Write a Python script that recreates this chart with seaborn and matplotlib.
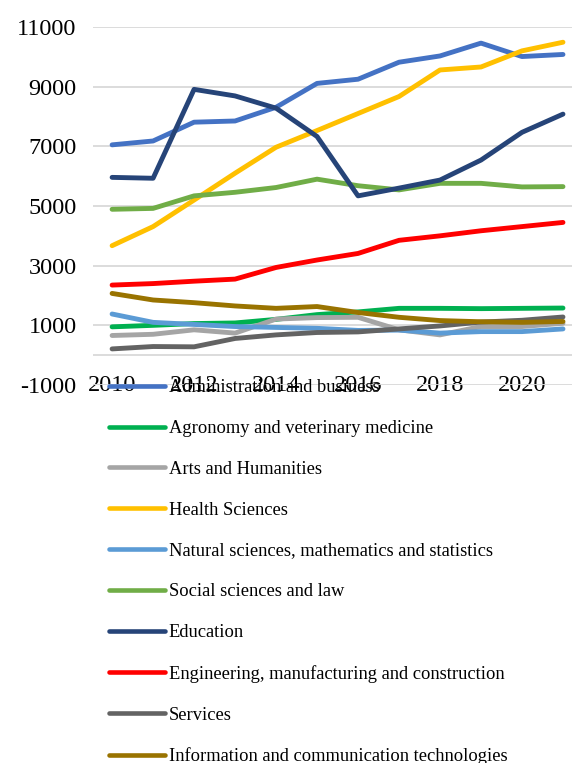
import pandas as pd
import matplotlib.pyplot as plt
import seaborn as sns

years = list(range(2010, 2022))

categories = [
	'Administration and business',
	'Agronomy and veterinary medicine',
	'Arts and Humanities',
	'Health Sciences',
	'Natural sciences, mathematics and statistics',
	'Social sciences and law',
	'Education',
	'Engineering, manufacturing and construction',
	'Services',
	'Information and communication technologies',
]

admin = [7050, 7180, 7810, 7850, 8310, 9110, 9250, 9820, 10030, 10460, 10010, 10080]
agronomy = [950, 1000, 1060, 1080, 1200, 1360, 1450, 1570, 1570, 1560, 1570, 1580]
arts = [660, 700, 850, 740, 1210, 1260, 1270, 850, 680, 960, 960, 1070]
health = [3670, 4310, 5200, 6100, 6970, 7530, 8100, 8670, 9560, 9660, 10200, 10490]
natural = [1380, 1100, 1030, 960, 930, 900, 830, 840, 740, 790, 790, 880]
social = [4890, 4920, 5340, 5460, 5620, 5900, 5680, 5540, 5760, 5760, 5640, 5650]
education = [5960, 5930, 8910, 8690, 8280, 7330, 5340, 5600, 5870, 6540, 7470, 8080]
engineering = [2350, 2400, 2480, 2550, 2940, 3190, 3410, 3850, 4000, 4170, 4310, 4450]
services = [210, 290, 280, 560, 680, 760, 780, 880, 980, 1110, 1170, 1280]
ict = [2070, 1850, 1760, 1650, 1570, 1630, 1430, 1270, 1160, 1120, 1100, 1130]

series = [admin, agronomy, arts, health, natural, social, education, engineering, services, ict]

colors = ['#4472C4', '#00B050', '#A5A5A5', '#FFC000', '#5B9BD5',
          '#70AD47', '#264478', '#FF0000', '#636363', '#997300']

def build_frame():
	rows = []
	for name, values in zip(categories, series):
		for year, value in zip(years, values):
			rows.append({'year': year, 'value': value, 'field': name})
	return pd.DataFrame(rows)

def draw_chart(df):
	sns.set_style('white')
	plt.rcParams['font.family'] = ['Liberation Serif', 'DejaVu Serif']
	plt.rcParams['axes.unicode_minus'] = False
	plt.rcParams['text.color'] = 'black'

	fig = plt.figure(figsize=(5.72, 7.63), dpi=100)
	ax = fig.add_axes([0.163, 0.4954, 0.837, 0.4692])

	sns.lineplot(data=df, x='year', y='value', hue='field', hue_order=categories,
	             palette=colors, linewidth=3.5, ax=ax, legend=False,
	             solid_capstyle='round')

	ax.set_xlim(2009.54, 2021.22)
	ax.set_ylim(-1000, 11000)
	ax.set_yticks(range(-1000, 11001, 2000))
	ax.set_xticks(range(2010, 2021, 2))
	ax.set_xlabel('')
	ax.set_ylabel('')

	ax.grid(axis='y', color='#D9D9D9', linewidth=1.3)
	ax.set_axisbelow(True)
	ax.axhline(0, color='#D9D9D9', linewidth=1.3, zorder=0)
	for spine in ax.spines.values():
		spine.set_visible(False)
	ax.tick_params(axis='both', which='both', length=0, labelsize=17.5, labelcolor='black')
	ax.tick_params(axis='y', pad=12)
	ax.tick_params(axis='x', pad=0)
	for label in ax.get_xticklabels():
		label.set_va('center')

	handles = [plt.Line2D([], [], color=c, linewidth=3.3, solid_capstyle='round') for c in colors]
	fig.legend(handles, categories, loc='upper left', bbox_to_anchor=(0.191, 0.503),
	           frameon=False, fontsize=13.3, handlelength=3.0, handletextpad=0.22,
	           labelspacing=1.29, borderpad=0, borderaxespad=0, labelcolor='black')

	fig.savefig('out.png', dpi=100)

def main():
	df = build_frame()
	draw_chart(df)

if __name__ == '__main__':
	main()
